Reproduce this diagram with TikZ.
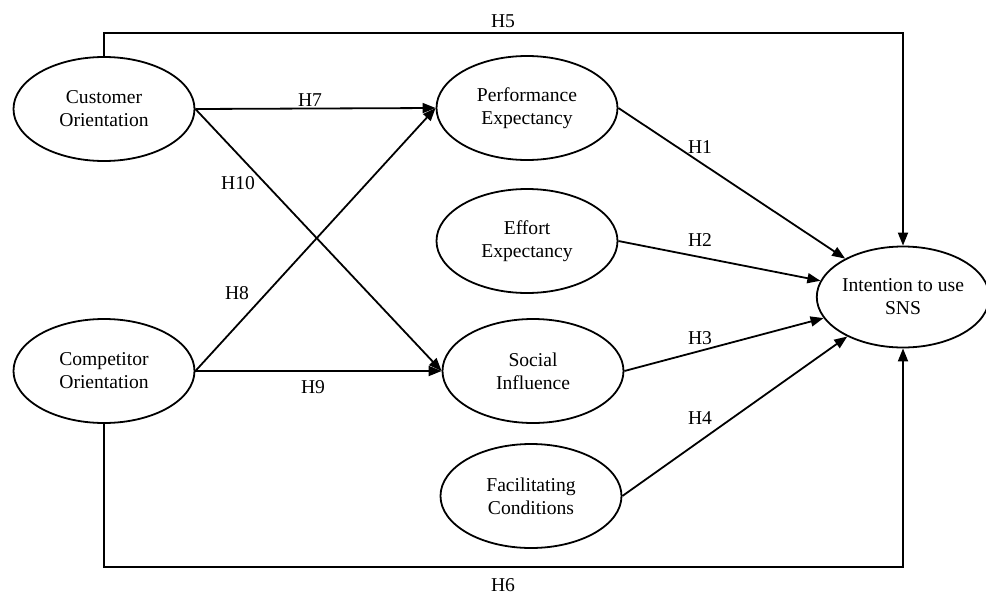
\documentclass[tikz,border=0pt]{standalone}
\usepackage{fontspec}
\setmainfont{Liberation Serif}
\usetikzlibrary{arrows.meta,shapes.geometric}
\begin{document}
\begin{tikzpicture}[x=0.5pt, y=-0.5pt, line width=0.9pt, line join=miter, >={Triangle[length=6.5pt,width=5pt]},
	construct/.style={draw, ellipse, minimum width=90.5pt, minimum height=52pt, inner sep=0pt, align=center, font=\fontsize{9.8}{11.5}\selectfont},
	hyp/.style={inner sep=1pt, font=\fontsize{9.8}{11.5}\selectfont}]
	\useasboundingbox (0,0) rectangle (986,595);
	% constructs
	\node[construct] (cust) at (104,109) {Customer\\Orientation};
	\node[construct] (comp) at (104,371) {Competitor\\Orientation};
	\node[construct] (perf) at (527,108) {Performance\\Expectancy};
	\node[construct] (eff) at (527,241) {Effort\\Expectancy};
	\node[construct] (soc) at (533,371) {Social\\Influence};
	\node[construct] (fac) at (531,496) {Facilitating\\Conditions};
	\node[construct, minimum width=86pt, minimum height=50.5pt] (int) at (903,297) {Intention to use\\SNS};
	% paths
	\draw[->] (cust.east) -- (perf.west);
	\draw[->] (cust.east) -- (soc.west);
	\draw[->] (comp.east) -- (perf.west);
	\draw[->] (comp.east) -- (soc.west);
	\foreach \src in {perf,eff,soc,fac} \draw[->] (\src.east) -- (int);
	\coordinate (top) at (503,33);
	\coordinate (bot) at (503,567);
	\draw[->] (cust.north) |- (top) -| (int.north);
	\draw[->] (comp.south) |- (bot) -| (int.south);
	% hypotheses
	\node[hyp] (h1) at (700,147) {H1};
	\node[hyp] (h2) at (700,240) {H2};
	\node[hyp] (h3) at (700,338) {H3};
	\node[hyp] (h4) at (700,418) {H4};
	\node[hyp] (h5) at (503,21) {H5};
	\node[hyp] (h6) at (503,585) {H6};
	\node[hyp] (h7) at (310,100) {H7};
	\node[hyp] (h8) at (237,293) {H8};
	\node[hyp] (h9) at (313,387) {H9};
	\node[hyp] (h10) at (238,183) {H10};
\end{tikzpicture}
\end{document}
